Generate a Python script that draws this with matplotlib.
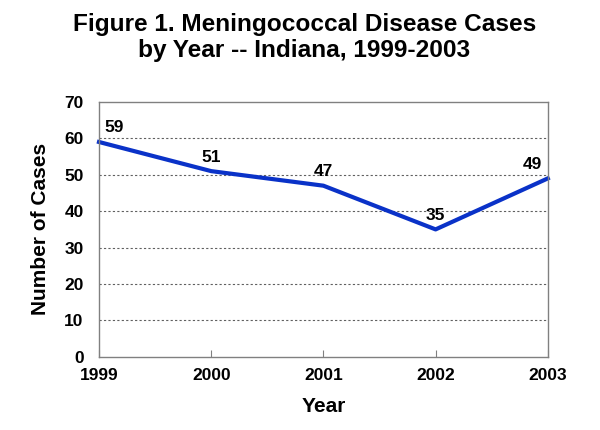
import matplotlib.pyplot as plt

# ------------------------------
# DATA
# ------------------------------
years = [1999, 2000, 2001, 2002, 2003]
cases = [59, 51, 47, 35, 49]
y_ticks = [0, 10, 20, 30, 40, 50, 60, 70]

plt.rcParams['font.family'] = ['Liberation Sans', 'DejaVu Sans']
plt.rcParams['font.weight'] = 'bold'

fig = plt.figure(figsize=(6, 4.3), dpi=100)
ax = fig.add_axes([0.165, 0.170, 0.748, 0.593])

ax.plot(years, cases, color='#0a32c8', linewidth=3.0, solid_joinstyle='round',
        clip_on=False)

# value labels
offsets = [(4, 5), (0, 4.5), (0, 4.5), (0, 4.5), (-4, 4.5)]
aligns = ['left', 'center', 'center', 'center', 'right']
for x, y, off, ha in zip(years, cases, offsets, aligns):
    ax.annotate(str(y), (x, y), xytext=off, textcoords='offset points',
                ha=ha, va='bottom', fontsize=12.5, fontweight='bold')

ax.set_xlim(years[0], years[-1])
ax.set_ylim(0, 70)
ax.set_xticks(years)
ax.set_yticks(y_ticks)
ax.tick_params(axis='x', direction='in', length=5, color='#808080',
               labelsize=12.5, pad=8)
ax.tick_params(axis='y', length=0, labelsize=12.5, pad=11)

for v in y_ticks[1:-1]:
    ax.axhline(v, color='#606060', linestyle=(0, (2, 2)), linewidth=0.8, zorder=0)

for s in ax.spines.values():
    s.set_color('#808080')
    s.set_linewidth(1.0)

ax.set_xlabel('Year', fontsize=15, fontweight='bold', labelpad=10)
ax.set_ylabel('Number of Cases', fontsize=15, fontweight='bold', labelpad=10)

fig.text(0.507, 0.912, 'Figure 1. Meningococcal Disease Cases\nby Year -- Indiana, 1999-2003',
         ha='center', va='center', fontsize=17.6, fontweight='bold', linespacing=1.18)

fig.savefig('out.png', dpi=100)
